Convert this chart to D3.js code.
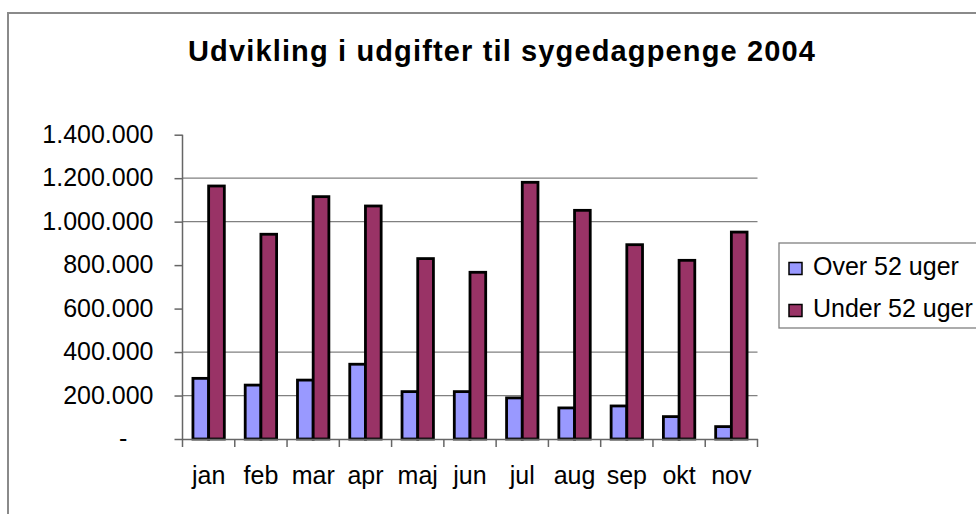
<!DOCTYPE html>
<html>
<head>
<meta charset="utf-8">
<script src="https://cdn.jsdelivr.net/npm/d3@7"></script>
<style>
  body { margin: 0; background: #fff; }
  text { font-family: "Liberation Sans", Arial, sans-serif; fill: #000; }
</style>
</head>
<body>
<div id="chart"></div>
<script>
// data
var months = ["jan", "feb", "mar", "apr", "maj", "jun", "jul", "aug", "sep", "okt", "nov"];
var series = ["Over 52 uger", "Under 52 uger"];
var over52 = [279000, 248000, 271000, 344000, 218000, 218000, 189000, 143000, 152000, 103000, 57000];
var under52 = [1164000, 942000, 1115000, 1072000, 830000, 767000, 1181000, 1052000, 894000, 822000, 952000];
var yTicks = [0, 200000, 400000, 600000, 800000, 1000000, 1200000, 1400000];
var gridValues = [200000, 400000, 1000000, 1200000];
var colors = ["#9999ff", "#993366"];

var width = 976, height = 514;

var svg = d3.select("#chart")
  .append("svg")
  .attr("width", width)
  .attr("height", height);

// outer chart frame (runs off the right and bottom edge)
svg.append("rect")
  .attr("x", 8)
  .attr("y", 13)
  .attr("width", 1000)
  .attr("height", 600)
  .attr("fill", "none")
  .attr("stroke", "#8a8a8a")
  .attr("stroke-width", 2);

// title
svg.append("text")
  .attr("x", 188)
  .attr("y", 61)
  .attr("textLength", 627)
  .attr("lengthAdjust", "spacing")
  .style("font-size", "29px")
  .style("font-weight", "bold")
  .text("Udvikling i udgifter til sygedagpenge 2004");

// scales
var xPositionScale = d3.scaleBand()
  .domain(months)
  .range([182.5, 757.5])
  .padding(0);

var seriesScale = d3.scaleBand()
  .domain(series)
  .range([0, xPositionScale.bandwidth()])
  .paddingInner(0)
  .paddingOuter(0.665);

var yPositionScale = d3.scaleLinear()
  .domain([0, 1400000])
  .range([439, 134.7]);

var locale = d3.formatLocale({ decimal: ",", thousands: ".", grouping: [3], currency: ["", ""] });
var fmt = locale.format(",");

// gridlines
svg.append("g")
  .selectAll("line")
  .data(gridValues)
  .enter().append("line")
  .attr("x1", xPositionScale.range()[0])
  .attr("x2", xPositionScale.range()[1])
  .attr("y1", function(d) { return yPositionScale(d); })
  .attr("y2", function(d) { return yPositionScale(d); })
  .attr("stroke", "#808080")
  .attr("stroke-width", 1.3);

// bars
var rows = months.map(function(m, i) {
  return { month: m, values: [over52[i], under52[i]] };
});

var groups = svg.append("g")
  .selectAll("g")
  .data(rows)
  .enter().append("g")
  .attr("transform", function(d) { return "translate(" + xPositionScale(d.month) + ",0)"; });

groups.selectAll("rect")
  .data(function(d) {
    return d.values.map(function(v, j) { return { key: series[j], value: v, idx: j }; });
  })
  .enter().append("rect")
  .attr("x", function(d) { return seriesScale(d.key); })
  .attr("width", seriesScale.bandwidth())
  .attr("y", function(d) { return yPositionScale(d.value); })
  .attr("height", function(d) { return yPositionScale(0) - yPositionScale(d.value); })
  .attr("fill", function(d) { return colors[d.idx]; })
  .attr("stroke", "#000")
  .attr("stroke-width", 2.8);

// y axis
var yAxis = d3.axisLeft(yPositionScale)
  .tickValues(yTicks)
  .tickSize(8)
  .tickPadding(21)
  .tickFormat(function(d) { return d === 0 ? "-" : fmt(d); });

var yG = svg.append("g")
  .attr("class", "axis y-axis")
  .attr("transform", "translate(" + xPositionScale.range()[0] + ",0)")
  .call(yAxis);

yG.select(".domain").attr("d", "M-0,439V134.7").attr("stroke", "#666").attr("stroke-width", 1.5);
yG.selectAll(".tick line").attr("stroke", "#666").attr("stroke-width", 1.5);
yG.selectAll(".tick text")
  .style("font-size", "25px")
  .attr("dy", "0.3em")
  .attr("dx", function(d) { return d === 0 ? "-1.05em" : 0; });

// x axis, ticks on category boundaries
var xAxis = d3.axisBottom(xPositionScale).tickSize(0).tickPadding(0);
var xG = svg.append("g")
  .attr("class", "axis x-axis")
  .attr("transform", "translate(0,439)")
  .call(xAxis);

xG.select(".domain").attr("stroke", "#666").attr("stroke-width", 1.5);
xG.selectAll(".tick text")
  .style("font-size", "25px")
  .attr("y", 45)
  .attr("dy", 0);

xG.selectAll(".boundary")
  .data(months.concat(["end"]))
  .enter().append("line")
  .attr("class", "boundary")
  .attr("x1", function(d, i) { return xPositionScale.range()[0] + i * xPositionScale.step(); })
  .attr("x2", function(d, i) { return xPositionScale.range()[0] + i * xPositionScale.step(); })
  .attr("y1", 0)
  .attr("y2", 8)
  .attr("stroke", "#666")
  .attr("stroke-width", 1.5);

// legend
var legend = svg.append("g").attr("transform", "translate(779,243)");
legend.append("rect")
  .attr("x", 0)
  .attr("y", 0)
  .attr("width", 220)
  .attr("height", 85)
  .attr("fill", "#fff")
  .attr("stroke", "#808080")
  .attr("stroke-width", 1.3);

var items = legend.selectAll(".item")
  .data(series)
  .enter().append("g")
  .attr("class", "item")
  .attr("transform", function(d, i) { return "translate(0," + (i * 42) + ")"; });

items.append("rect")
  .attr("x", 10)
  .attr("y", 19.5)
  .attr("width", 13)
  .attr("height", 12)
  .attr("fill", function(d, i) { return colors[i]; })
  .attr("stroke", "#000")
  .attr("stroke-width", 1.5);

items.append("text")
  .attr("x", 34)
  .attr("y", 32)
  .style("font-size", "25px")
  .text(function(d) { return d; });
</script>
</body>
</html>
